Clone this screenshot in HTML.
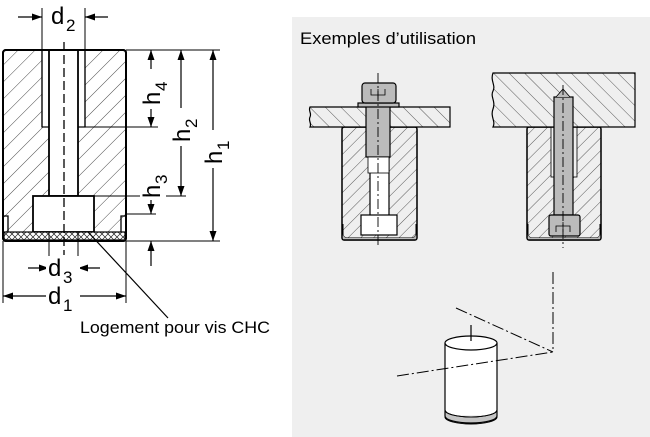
<!DOCTYPE html>
<html><head><meta charset="utf-8"><style>
html,body{margin:0;padding:0;background:#fff;width:650px;height:437px;overflow:hidden}
svg{display:block}
text{font-family:"Liberation Sans",sans-serif}
</style></head><body>
<svg width="650" height="437" viewBox="0 0 650 437" xmlns="http://www.w3.org/2000/svg">
<defs>
<pattern id="h" width="12" height="12" patternUnits="userSpaceOnUse" patternTransform="rotate(45)">
<rect width="12" height="12" fill="#fff"/><line x1="0" y1="0" x2="0" y2="12" stroke="#222" stroke-width="0.8"/></pattern>
<pattern id="hg" width="9" height="9" patternUnits="userSpaceOnUse" patternTransform="rotate(45)">
<rect width="9" height="9" fill="#efefef"/><line x1="0" y1="0" x2="0" y2="9" stroke="#333" stroke-width="0.8"/></pattern>
<pattern id="hg2" width="11" height="11" patternUnits="userSpaceOnUse" patternTransform="rotate(-45)">
<rect width="11" height="11" fill="#efefef"/><line x1="0" y1="0" x2="0" y2="11" stroke="#333" stroke-width="0.8"/></pattern>
<pattern id="x" width="6" height="6" patternUnits="userSpaceOnUse">
<rect width="6" height="6" fill="#fff"/><path d="M0 0L6 6M6 0L0 6" stroke="#222" stroke-width="0.7"/></pattern>
<marker id="a" viewBox="0 0 10 10" refX="10" refY="5" markerWidth="10" markerHeight="10" markerUnits="userSpaceOnUse" orient="auto-start-reverse"><path d="M0 1.5L10 5L0 8.5z" fill="#000"/></marker>
</defs>

<!-- LEFT DRAWING -->
<g stroke="#000" fill="none">
<rect x="3" y="50" width="123" height="191" rx="3" fill="url(#h)" stroke-width="2"/>
<rect x="42" y="50" width="43" height="77" fill="#fff" stroke-width="1.2"/>
<rect x="49" y="50" width="29" height="146" fill="#fff" stroke-width="1.8"/>
<rect x="33" y="196" width="61" height="36" fill="#fff" stroke-width="1.8"/>
<line x1="42" y1="50" x2="42" y2="127" stroke-width="1.2"/><line x1="85" y1="50" x2="85" y2="127" stroke-width="1.2"/>
<rect x="4" y="232" width="121" height="8" fill="url(#x)" stroke-width="1.2"/>
<path d="M4 216h4v16M125 216h-4v16" stroke-width="1.3"/>
<rect x="3" y="50" width="123" height="191" rx="3" stroke-width="2"/>
<line x1="64" y1="42" x2="64" y2="255" stroke-width="1.3" stroke-dasharray="9,4"/>
<g stroke-width="1">
<line x1="42" y1="8" x2="42" y2="50"/><line x1="85" y1="8" x2="85" y2="50"/>
<line x1="126" y1="50" x2="220" y2="50"/><line x1="85" y1="127" x2="158" y2="127"/>
<line x1="94" y1="196" x2="186" y2="196"/><line x1="126" y1="214" x2="156" y2="214"/>
<line x1="126" y1="241" x2="220" y2="241"/>
<line x1="49" y1="232" x2="49" y2="278"/><line x1="78" y1="232" x2="78" y2="278"/>
<line x1="3" y1="241" x2="3" y2="303"/><line x1="126" y1="241" x2="126" y2="303"/>
</g>
<g stroke-width="1.2">
<line x1="18" y1="17" x2="42" y2="17" marker-end="url(#a)"/><line x1="108" y1="17" x2="85" y2="17" marker-end="url(#a)"/>
<line x1="151" y1="50" x2="151" y2="127" marker-start="url(#a)" marker-end="url(#a)"/>
<line x1="181" y1="50" x2="181" y2="196" marker-start="url(#a)" marker-end="url(#a)"/>
<line x1="213" y1="50" x2="213" y2="241" marker-start="url(#a)" marker-end="url(#a)"/>
<line x1="151" y1="198" x2="151" y2="214" marker-end="url(#a)"/>
<line x1="151" y1="266" x2="151" y2="241" marker-end="url(#a)"/>
<line x1="28" y1="268" x2="49" y2="268" marker-end="url(#a)"/><line x1="100" y1="268" x2="78" y2="268" marker-end="url(#a)"/>
<line x1="3" y1="296" x2="126" y2="296" marker-start="url(#a)" marker-end="url(#a)"/>
<line x1="88" y1="232" x2="168" y2="318"/>
</g>
</g>
<g font-size="24" fill="#000">
<rect x="50" y="2" width="28" height="30" fill="#fff"/>
<text x="51" y="24">d</text><text x="66" y="31" font-size="17">2</text>
<rect x="46" y="256" width="34" height="26" fill="#fff"/>
<text x="48" y="276">d</text><text x="63" y="283" font-size="17">3</text>
<rect x="46" y="284" width="34" height="24" fill="#fff"/>
<text x="48" y="304">d</text><text x="63" y="311" font-size="17">1</text>
<g transform="translate(160,105) rotate(-90)"><rect x="-4" y="-20" width="40" height="26" fill="#fff"/><text x="0" y="0">h</text><text x="14" y="7" font-size="17">4</text></g>
<g transform="translate(190,142) rotate(-90)"><rect x="-4" y="-20" width="38" height="26" fill="#fff"/><text x="0" y="0">h</text><text x="14" y="7" font-size="17">2</text></g>
<g transform="translate(222,164) rotate(-90)"><rect x="-4" y="-20" width="38" height="26" fill="#fff"/><text x="0" y="0">h</text><text x="14" y="7" font-size="17">1</text></g>
<g transform="translate(160,198) rotate(-90)"><rect x="-2" y="-20" width="34" height="26" fill="#fff"/><text x="0" y="0">h</text><text x="14" y="7" font-size="17">3</text></g>
</g>
<text x="80" y="333" font-size="17" textLength="190" lengthAdjust="spacingAndGlyphs">Logement pour vis CHC</text>

<!-- RIGHT PANEL -->
<rect x="292" y="17" width="358" height="420" fill="#efefef"/>
<text x="300" y="44" font-size="17" textLength="176" lengthAdjust="spacingAndGlyphs">Exemples d’utilisation</text>

<g stroke="#000" stroke-width="1.2">
<rect x="342" y="127" width="75" height="113" rx="2" fill="url(#hg)"/>
<rect x="370" y="157" width="19" height="60" fill="#fff"/>
<rect x="361" y="215" width="36" height="20" fill="#fff"/>
<path d="M343 224v10a4 4 0 0 0 4 4h65a4 4 0 0 0 4-4v-10" fill="none" stroke-width="1"/>
<path d="M343 234a4 4 0 0 0 4 4h65a4 4 0 0 0 4-4v6h-73z" fill="#bbb" stroke="none"/>
<rect x="342" y="127" width="75" height="113" rx="2" fill="none" stroke-width="1.4"/>
<path d="M310 107h140v20h-140c2-4 -2-6 0-10s-2-6 0-10z" fill="url(#hg2)"/>
<rect x="366" y="105" width="24" height="52" fill="#bbb"/>
<rect x="368" y="157" width="21" height="16" fill="#fff" stroke-width="0.8"/>
<rect x="358" y="103" width="41" height="4" fill="#bbb"/>
<rect x="362" y="83" width="34" height="20" rx="3" fill="#bbb"/>
<path d="M371 89v6h14v-6M378 89v10" fill="none" stroke-width="0.8"/>
<line x1="378" y1="73" x2="378" y2="248" stroke-width="0.9" stroke-dasharray="10,3,2,3"/>
<rect x="527" y="127" width="74" height="113" rx="2" fill="url(#hg)"/>
<rect x="551" y="127" width="26" height="50" fill="#efefef" stroke-width="0.8"/>
<path d="M528 224v10a4 4 0 0 0 4 4h64a4 4 0 0 0 4-4v-10" fill="none" stroke-width="1"/>
<path d="M528 234a4 4 0 0 0 4 4h64a4 4 0 0 0 4-4v6h-72z" fill="#bbb" stroke="none"/>
<rect x="527" y="127" width="74" height="113" rx="2" fill="none" stroke-width="1.4"/>
<path d="M493 73h142v54h-142c3-6 -3-10 0-18s-3-12 0-18s-3-10 0-18z" fill="url(#hg2)"/>
<rect x="554" y="97" width="19" height="118" fill="#bbb"/>
<path d="M556 97l7-8l7 8" fill="#bbb" stroke-width="0.8"/>
<rect x="549" y="215" width="31" height="21" rx="2" fill="#bbb"/>
<path d="M556 232v-6h14v6M563 222v10" fill="none" stroke-width="0.8"/>
<line x1="563" y1="85" x2="563" y2="248" stroke-width="0.9" stroke-dasharray="10,3,2,3"/>
<rect x="445" y="343" width="52" height="72" fill="#fff" stroke="none"/>
<path d="M445 410v7a26 7 0 0 0 52 0v-7a26 7 0 0 1 -52 0z" fill="#c4c4c4" stroke-width="1"/>
<path d="M445 343v73a26 7 0 0 0 52 0v-73" fill="none"/>
<path d="M445 410a26 7 0 0 0 52 0" fill="none" stroke-width="1"/>
<ellipse cx="471" cy="343" rx="26" ry="7" fill="#fff"/>
<line x1="471" y1="325" x2="471" y2="341"/>
<g stroke-width="1" stroke-dasharray="12,3,2,3" fill="none">
<line x1="397" y1="376" x2="553" y2="352"/>
<line x1="456" y1="308" x2="553" y2="352"/>
<line x1="553" y1="272" x2="553" y2="352"/>
</g>
</g>
</svg>
</body></html>
